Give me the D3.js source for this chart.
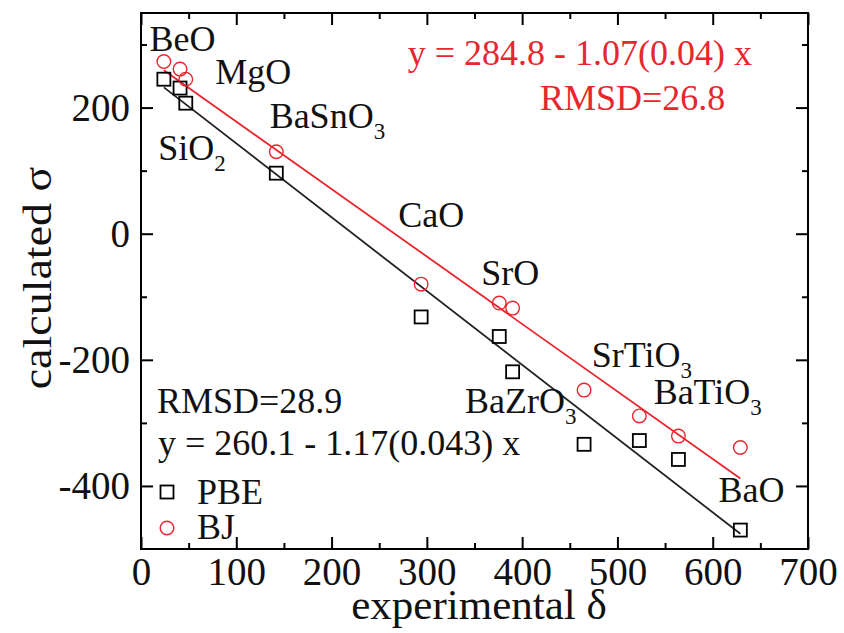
<!DOCTYPE html>
<html>
<head>
<meta charset="utf-8">
<script src="https://cdn.jsdelivr.net/npm/d3@7"></script>
<style>
  html, body { margin: 0; padding: 0; background: #fff; }
  svg { display: block; }
  text { font-family: "Liberation Serif", "Times New Roman", serif; }
</style>
</head>
<body>
<svg id="chart" width="844" height="633"></svg>
<script>
// Compounds, experimental shift and the two calculated shieldings
const compounds = ["BeO", "MgO", "SiO2", "BaSnO3", "CaO", "SrO", "SrO(b)", "SrTiO3", "BaTiO3-a", "BaTiO3", "BaO"];
const experimental = [24, 41, 47, 142, 294, 376, 390, 465, 523, 564, 629];
const pbe = [245, 231, 207, 96, -132, -163, -219, -334, -328, -358, -470];
const bj = [273, 261, 245, 130, -80, -110, -118, -248, -289, -321, -339];

// Linear fits reported for each functional
const fitPBE = { a: 260.1, b: -1.17 };
const fitBJ = { a: 284.8, b: -1.07 };

// Axis ticks
const xMajor = [0, 100, 200, 300, 400, 500, 600, 700];
const xMinor = [50, 150, 250, 350, 450, 550, 650];
const yMajor = [-400, -200, 0, 200];
const yMinor = [-300, -100, 100, 300];

// Compound labels: [main text, subscript, x, y] in data units
const labels = [
  ["BeO", "", 9, 290],
  ["MgO", "", 78, 238],
  ["BaSnO", "3", 135, 168],
  ["SiO", "2", 18, 117],
  ["CaO", "", 270, 11],
  ["SrO", "", 357, -81],
  ["SrTiO", "3", 473, -211],
  ["BaTiO", "3", 538, -270],
  ["BaZrO", "3", 340, -285],
  ["BaO", "", 606, -425]
];

const red = "#e8262e";
const svg = d3.select("#chart");
const mLeft = 141, mRight = 808, mTop = 13, mBottom = 549;

const x = d3.scaleLinear().domain([0, 700]).range([mLeft, mRight]);
const y = d3.scaleLinear().domain([-500, 350]).range([mBottom, mTop]);

// Frame
svg.append("rect")
  .attr("x", mLeft).attr("y", mTop)
  .attr("width", mRight - mLeft).attr("height", mBottom - mTop)
  .attr("fill", "none").attr("stroke", "#000").attr("stroke-width", 2);

function styleAxis(g) {
  g.select(".domain").remove();
  g.selectAll(".tick line").attr("stroke", "#000").attr("stroke-width", 2);
  g.selectAll(".tick text")
    .attr("fill", "#111")
    .style("font-family", "'Liberation Serif', serif")
    .style("font-size", "39px");
}

const fmt = d => String(d);

// Bottom axis with labels, major and minor ticks
svg.append("g").attr("transform", `translate(0,${mBottom})`)
  .call(d3.axisBottom(x).tickValues(xMajor).tickSize(-12).tickPadding(8).tickFormat(fmt))
  .call(styleAxis);
svg.append("g").attr("transform", `translate(0,${mBottom})`)
  .call(d3.axisBottom(x).tickValues(xMinor).tickSize(-6).tickFormat(""))
  .call(styleAxis);
// Top axis ticks
svg.append("g").attr("transform", `translate(0,${mTop})`)
  .call(d3.axisTop(x).tickValues(xMajor).tickSize(-12).tickFormat(""))
  .call(styleAxis);
svg.append("g").attr("transform", `translate(0,${mTop})`)
  .call(d3.axisTop(x).tickValues(xMinor).tickSize(-6).tickFormat(""))
  .call(styleAxis);
// Left axis
svg.append("g").attr("transform", `translate(${mLeft},0)`)
  .call(d3.axisLeft(y).tickValues(yMajor).tickSize(-12).tickPadding(11).tickFormat(fmt))
  .call(styleAxis);
svg.append("g").attr("transform", `translate(${mLeft},0)`)
  .call(d3.axisLeft(y).tickValues(yMinor).tickSize(-6).tickFormat(""))
  .call(styleAxis);
// Right axis ticks
svg.append("g").attr("transform", `translate(${mRight},0)`)
  .call(d3.axisRight(y).tickValues(yMajor).tickSize(-12).tickFormat(""))
  .call(styleAxis);
svg.append("g").attr("transform", `translate(${mRight},0)`)
  .call(d3.axisRight(y).tickValues(yMinor).tickSize(-6).tickFormat(""))
  .call(styleAxis);

// Axis titles
svg.append("text")
  .attr("x", 479).attr("y", 619)
  .attr("text-anchor", "middle")
  .attr("fill", "#111")
  .style("font-size", "43px")
  .text("experimental δ");
svg.append("text")
  .attr("transform", `translate(51,278) scale(0.85,1) rotate(-90)`)
  .attr("text-anchor", "middle")
  .attr("fill", "#111")
  .style("font-size", "46px")
  .text("calculated σ");

// Fit lines spanning the data range
const xExt = d3.extent(experimental);
const line = d3.line().x(d => x(d[0])).y(d => y(d[1]));
function fitPts(f) { return xExt.map(v => [v, f.a + f.b * v]); }
svg.append("path").attr("d", line(fitPts(fitPBE)))
  .attr("stroke", "#222").attr("stroke-width", 1.8).attr("fill", "none");
svg.append("path").attr("d", line(fitPts(fitBJ)))
  .attr("stroke", red).attr("stroke-width", 1.8).attr("fill", "none");

// PBE squares
const sq = 13;
svg.append("g").selectAll("rect").data(compounds).join("rect")
  .attr("x", (d, i) => x(experimental[i]) - sq / 2)
  .attr("y", (d, i) => y(pbe[i]) - sq / 2)
  .attr("width", sq).attr("height", sq)
  .attr("fill", "none").attr("stroke", "#000").attr("stroke-width", 1.8);

// BJ circles
svg.append("g").selectAll("circle").data(compounds).join("circle")
  .attr("cx", (d, i) => x(experimental[i]))
  .attr("cy", (d, i) => y(bj[i]))
  .attr("r", 6.8)
  .attr("fill", "none").attr("stroke", red).attr("stroke-width", 1.4);

// Compound labels
const lab = svg.append("g").selectAll("text").data(labels).join("text")
  .attr("x", d => x(d[2])).attr("y", d => y(d[3]))
  .style("font-size", "36px").attr("fill", "#111");
lab.append("tspan").text(d => d[0]);
lab.filter(d => d[1]).append("tspan")
  .attr("dy", 11).style("font-size", "23px").text(d => d[1]);

// Fit annotations
svg.append("text").attr("x", 752).attr("y", 65).attr("text-anchor", "end")
  .attr("fill", red).style("font-size", "36px")
  .text(`y = ${fitBJ.a} - ${Math.abs(fitBJ.b).toFixed(2)}(0.04) x`);
svg.append("text").attr("x", 540).attr("y", 110)
  .attr("fill", red).style("font-size", "36px")
  .text("RMSD=26.8");
svg.append("text").attr("x", 157).attr("y", 413)
  .attr("fill", "#111").style("font-size", "36px")
  .text("RMSD=28.9");
svg.append("text").attr("x", 158).attr("y", 455)
  .attr("fill", "#111").style("font-size", "36px")
  .text(`y = ${fitPBE.a} - ${Math.abs(fitPBE.b).toFixed(2)}(0.043) x`);

// Legend
svg.append("rect").attr("x", 167 - 6.5).attr("y", 492 - 6.5)
  .attr("width", 13).attr("height", 13)
  .attr("fill", "none").attr("stroke", "#000").attr("stroke-width", 1.8);
svg.append("text").attr("x", 197).attr("y", 504).attr("fill", "#111").style("font-size", "36px").text("PBE");
svg.append("circle").attr("cx", 167).attr("cy", 528).attr("r", 6.8)
  .attr("fill", "none").attr("stroke", red).attr("stroke-width", 1.4);
svg.append("text").attr("x", 197).attr("y", 539).attr("fill", "#111").style("font-size", "36px").text("BJ");
</script>
</body>
</html>
